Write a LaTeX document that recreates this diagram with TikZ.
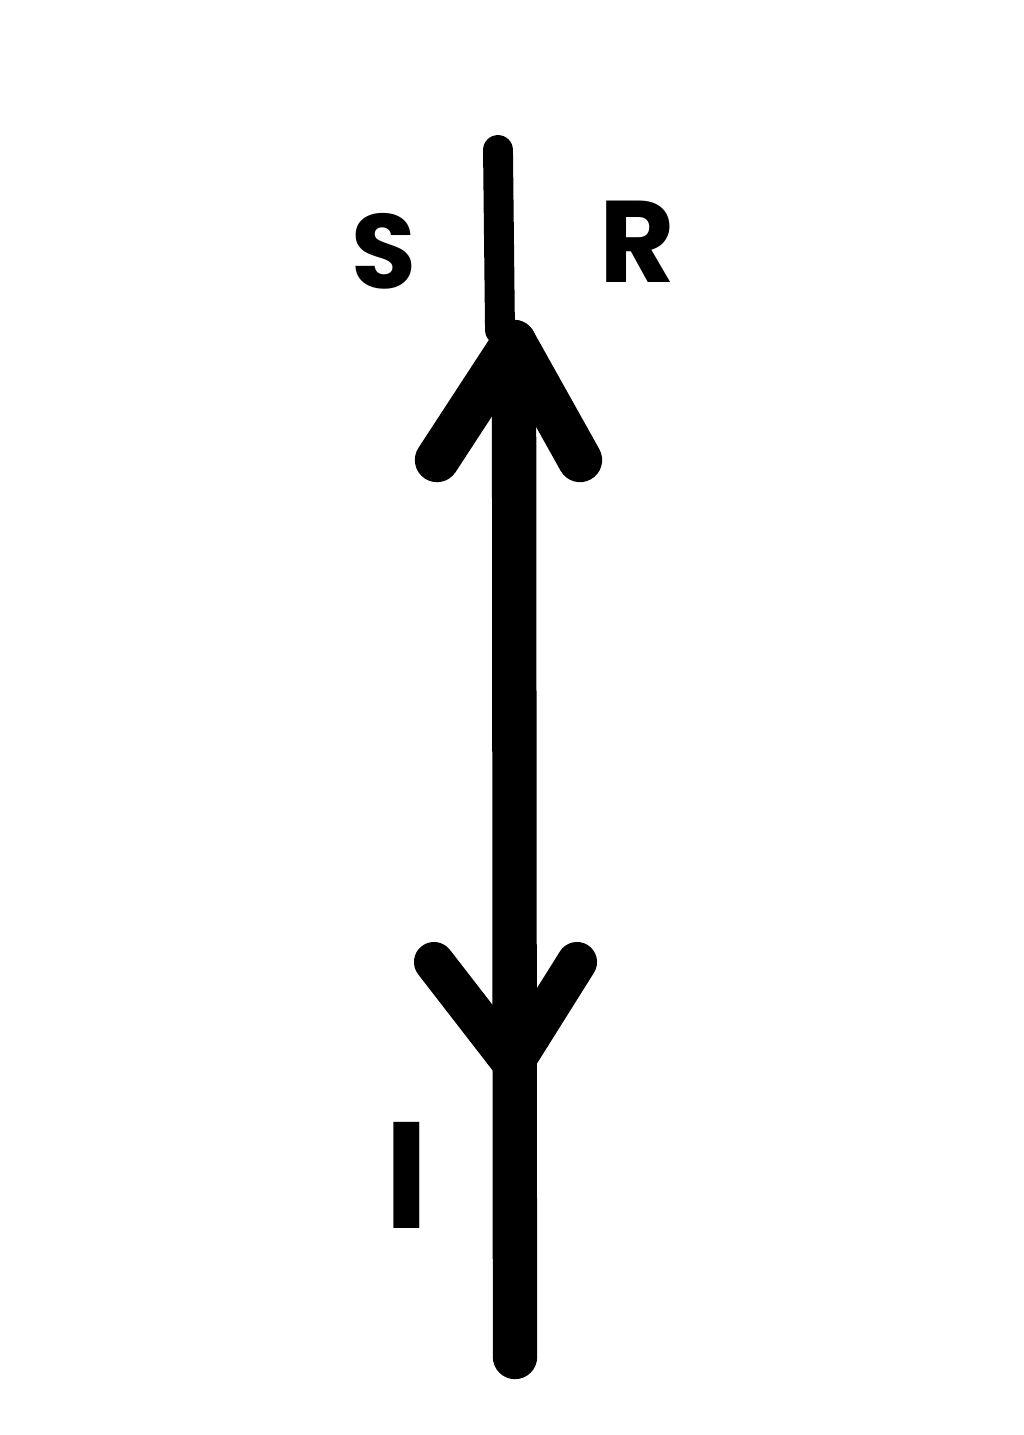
\documentclass[tikz,border=0pt]{standalone}
\usepackage{fontspec}
\setmainfont{Poppins}
\usetikzlibrary{positioning}

\tikzstyle{lbl} = [font=\bfseries, inner sep=0pt]
\tikzstyle{thinray} = [draw, line width=8.5pt, line cap=round]
\tikzstyle{thickray} = [draw, line width=12.6pt, line cap=round]
\tikzstyle{head} = [draw, line width=12.6pt, line cap=round, line join=round]

\begin{document}
\begin{tikzpicture}[x=0.01cm, y=-0.01cm]
    \useasboundingbox (0,0) rectangle (1024,1435);

    % ray ends
    \coordinate (top) at (498,150);
    \coordinate (joint) at (500,330);
    \coordinate (tip) at (514,342);
    \coordinate (bottom) at (515,1357);

    % LABELS
        \node [lbl, font=\fontsize{30}{34}\selectfont\bfseries] (s) at (384,251) {S};
        \node [lbl, font=\fontsize{33}{36}\selectfont\bfseries] (r) at (637,242) {R};
        \node [lbl, font=\fontsize{43}{46}\selectfont\bfseries] (i) at (407,1175) {I};

    % LINE top -> bottom
        \path[thinray] (top) -- (joint);
        \path[thickray] (tip) -- (bottom);

    % HEAD pointing up
        \coordinate (upl) at (437,460);
        \coordinate (upr) at (580,460);
        \path[head] (upl) -- (tip) -- (upr);

    % HEAD pointing down
        \coordinate (dnl) at (434,962);
        \coordinate (dnr) at (577,962);
        \coordinate (dntip) at (513,1064);
        \path[head, line width=11.4pt] (dnl) -- (dntip) -- (dnr);
\end{tikzpicture}
\end{document}
